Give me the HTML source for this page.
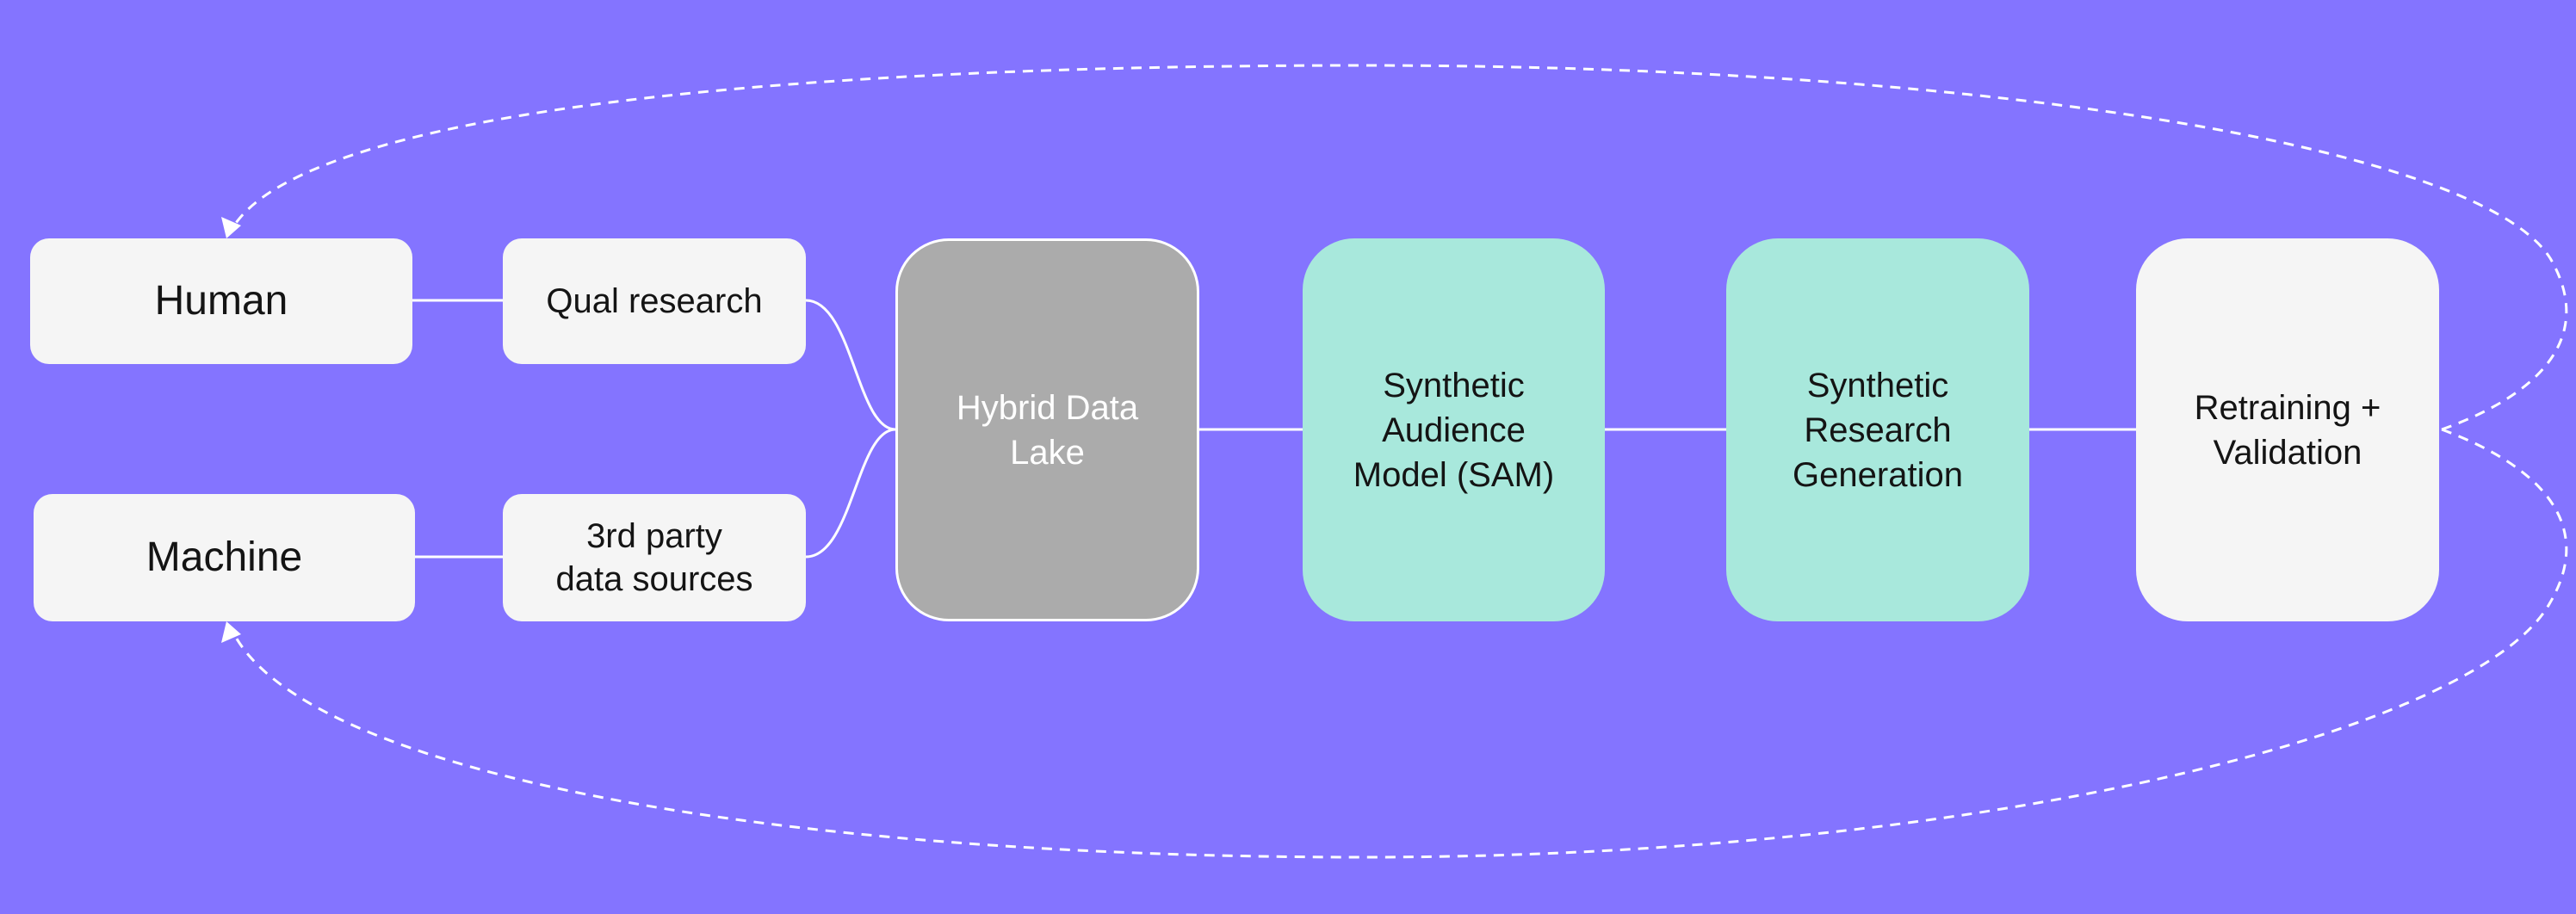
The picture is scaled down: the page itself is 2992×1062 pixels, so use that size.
<!DOCTYPE html>
<html><head><meta charset="utf-8"><style>
html,body{margin:0;padding:0}
body{width:2992px;height:1062px;background:#8474ff;overflow:hidden;position:relative;font-family:"Liberation Sans",sans-serif}
.b{position:absolute;box-sizing:border-box;display:flex;align-items:center;justify-content:center;text-align:center;color:#141414;background:#f5f5f5;line-height:52px}
</style></head><body>
<svg width="2992" height="1062" style="position:absolute;left:0;top:0">
<g stroke="#fff" stroke-width="3" fill="none">
<line x1="477" y1="349" x2="584" y2="349"/>
<line x1="482" y1="647" x2="584" y2="647"/>
<path d="M936,349 C990,349 995,499 1040,499"/>
<path d="M936,647 C990,647 995,499 1040,499"/>
<line x1="1393" y1="499" x2="1513" y2="499"/>
<line x1="1864" y1="499" x2="2005" y2="499"/>
<line x1="2357" y1="499" x2="2481" y2="499"/>
<g stroke-dasharray="12,9">
<path d="M2836,499 C2960,455 3012,385 2962,300 C2880,170 2300,76 1584,76 C900,76 360,130 272,262"/>
<path d="M2836,499 C2960,545 3012,615 2962,700 C2880,850 2300,996 1584,996 C900,996 360,900 272,737"/>
</g>
</g>
<polygon points="263,277 257,252 280,262" fill="#fff"/>
<polygon points="263,722 257,747 280,737" fill="#fff"/>
</svg>
<div class="b" style="left:35px;top:277px;width:444px;height:146px;border-radius:22px;font-size:48px">Human</div>
<div class="b" style="left:39px;top:574px;width:443px;height:148px;border-radius:22px;font-size:48px">Machine</div>
<div class="b" style="left:584px;top:277px;width:352px;height:146px;border-radius:22px;font-size:40px">Qual research</div>
<div class="b" style="left:584px;top:574px;width:352px;height:148px;border-radius:22px;font-size:40px;line-height:50px">3rd party<br>data sources</div>
<div class="b" style="left:1040px;top:277px;width:353px;height:445px;border-radius:62px;background:#ababab;border:3px solid #fff;color:#fff;font-size:40px">Hybrid Data<br>Lake</div>
<div class="b" style="left:1513px;top:277px;width:351px;height:445px;border-radius:60px;background:#a8e8dc;font-size:40px">Synthetic<br>Audience<br>Model (SAM)</div>
<div class="b" style="left:2005px;top:277px;width:352px;height:445px;border-radius:60px;background:#a8e8dc;font-size:40px">Synthetic<br>Research<br>Generation</div>
<div class="b" style="left:2481px;top:277px;width:352px;height:445px;border-radius:60px;font-size:40px">Retraining +<br>Validation</div>
</body></html>
